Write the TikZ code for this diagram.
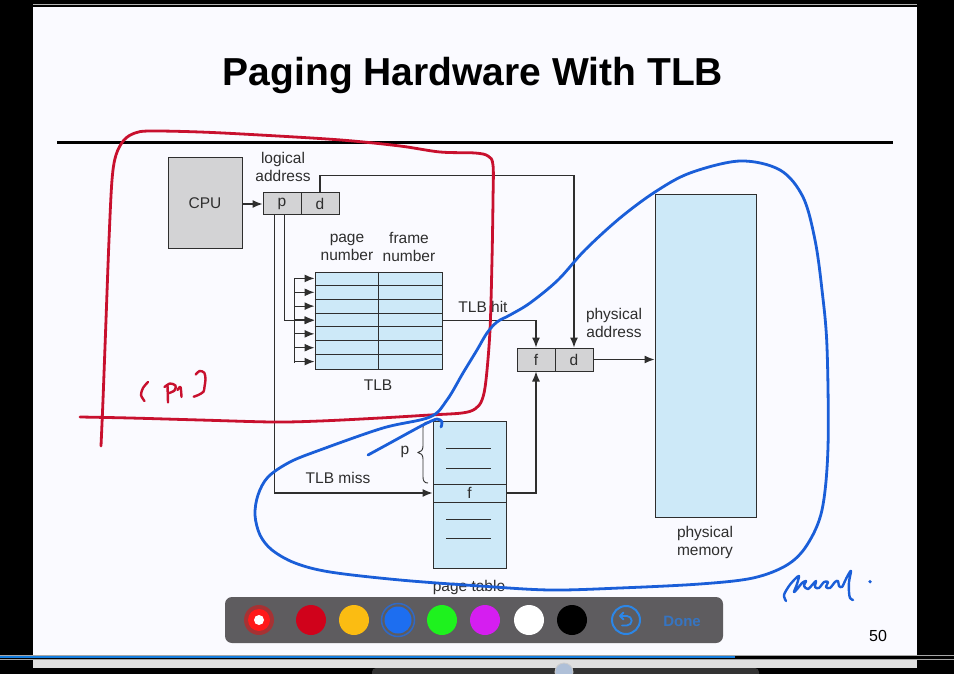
\documentclass[tikz,border=0pt]{standalone}
\usepackage{fontspec}
\setmainfont{Liberation Sans}
\usetikzlibrary{arrows.meta,calc}

\definecolor{ink}{HTML}{2E2E2E}
\definecolor{boxgray}{HTML}{D3D3D5}
\definecolor{tlbblue}{HTML}{CDE9F8}
\definecolor{annred}{HTML}{C8102E}
\definecolor{annblue}{HTML}{1A5ED8}
\definecolor{barbg}{HTML}{5E5C5F}
\definecolor{donetext}{HTML}{2C7BDA}
\definecolor{penred}{HTML}{D0021B}
\definecolor{penyellow}{HTML}{FBBC12}
\definecolor{penblue}{HTML}{1D6EF0}
\definecolor{pengreen}{HTML}{1EF21E}
\definecolor{penmagenta}{HTML}{D51EF0}
\definecolor{undoblue}{HTML}{2C86E6}
\definecolor{knob}{HTML}{AFC0D8}

\newcommand\dlabelfont{\fontsize{15.5}{18}\selectfont}

\begin{document}
\begin{tikzpicture}[x=1pt,y=-1pt,
  box/.style={draw=ink, line width=1pt, fill=boxgray, inner sep=0pt, font=\dlabelfont, text=ink},
  store/.style={draw=ink, line width=1pt, fill=tlbblue, inner sep=0pt},
  wire/.style={draw=ink, line width=1.2pt},
  arr/.style={wire, -{Latex[length=10pt,width=8pt]}},
  lbl/.style={font=\dlabelfont, text=ink, align=center, inner sep=0pt},
  redpen/.style={draw=annred, line width=2.8pt, line cap=round, line join=round},
  bluepen/.style={draw=annblue, line width=2.8pt, line cap=round, line join=round},
  swatch/.style={circle, inner sep=0pt, minimum size=30pt}
]
\useasboundingbox (0,0) rectangle (954,674);

% screen frame and slide
\fill[black] (0,0) rectangle (954,674);
\fill[white!98!blue] (33,7) rectangle (917,656);
\draw[gray!60, line width=0.8pt] (33,4) -- (917,4);

% player strip under the slide
\fill[gray!25] (33,659) rectangle (917,668);
\draw[gray!70, line width=1pt] (0,655.5) -- (954,655.5);
\draw[gray!70, line width=1pt] (0,659) -- (954,659);
\draw[annblue!80!cyan, line width=2pt] (0,657.3) -- (735,657.3);
\fill[black!80, rounded corners=4pt] (372,668) rectangle (759,680);
\fill[knob] (564,672) circle (9);
\draw[gray!40, line width=0.8pt] (564,672) circle (9);

% title and rule
\node[font={\fontsize{39}{44}\selectfont\bfseries}] (title) at (473,76) {Paging Hardware With TLB};
\draw[line width=3pt] (57,143) -- (893,143);

% CPU and logical address
\node[box, minimum width=74pt, minimum height=90pt] (cpu) at (205,203) {CPU};
\node[box, minimum width=38pt, minimum height=22pt] (lp) at (282,204) {p};
\node[box, minimum width=38pt, minimum height=22pt] (ld) at (320,204) {d};
\node[lbl] (lalabel) at (283,167) {logical\\address};

% TLB
\node[store, minimum width=127pt, minimum height=97pt] (tlb) at (378.5,320.5) {};
\foreach \k in {1,...,6}
  \draw[ink, line width=1pt] ($(tlb.north west)+(0,{13.857*\k})$) -- ($(tlb.north east)+(0,{13.857*\k})$);
\draw[ink, line width=1pt] (tlb.north) -- (tlb.south);
\node[lbl] (pnlabel) at (347,247) {page\\number};
\node[lbl] (fnlabel) at (409,247) {frame\\number};
\node[lbl] (tlblabel) at (378,385) {TLB};

% bus feeding every TLB entry
\draw[wire] ($(tlb.north west)+(-20,6.93)$) -- ($(tlb.south west)+(-20,-6.93)$);
\foreach \k in {0,...,6}
  \draw[arr] ($(tlb.north west)+(-20,{6.93+13.857*\k})$) -- ($(tlb.north west)+(0,{6.93+13.857*\k})$);

% physical address
\node[box, minimum width=38pt, minimum height=23pt] (pf) at (536,359.5) {f};
\node[box, minimum width=38pt, minimum height=23pt] (pd) at (574,359.5) {d};
\node[lbl] (palabel) at (614,323) {physical\\address};

% physical memory
\node[store, minimum width=101pt, minimum height=322pt] (mem) at (705.5,356) {};
\node[lbl] (pmlabel) at (705,542) {physical\\memory};

% page table
\node[store, minimum width=73pt, minimum height=147pt] (pt) at (469.5,494.5) {};
\node[store, minimum width=73pt, minimum height=18pt, font=\dlabelfont, text=ink] (ptf) at (469.5,493) {f};
\foreach \yy in {448,468,519,538}
  \draw[ink, line width=1pt] (446,\yy) -- (491,\yy);
% brace spanning the entries before f
\draw[ink, line width=0.9pt]
  (428,422) .. controls (424.5,422) and (423,424) .. (423,428) -- (423,446)
  .. controls (423,450) and (421,452) .. (418,452.5)
  .. controls (421,453) and (423,455) .. (423,459) -- (423,477)
  .. controls (423,481) and (424.5,483) .. (428,483);
\node[lbl] (plabel) at (405,452) {p};
\node[lbl] (ptlabel) at (469,587) {page table};

% connectors
\draw[arr] (cpu.east |- lp.west) -- (lp.west);
\draw[arr] (ld.north) -- ++(0,-17) -| (pd.north);
\draw[arr] ([xshift=22pt]lp.south west) |- (tlb.west);
\draw[arr] ([xshift=12pt]lp.south west) |- (ptf.west);
\draw[arr] (tlb.east) -| (pf.north);
\draw[arr] (ptf.east) -| (pf.south);
\draw[arr] (pd.east) -- (pd.east -| mem.west);
\node[lbl] (hitlabel) at (483,307) {TLB hit};
\node[lbl] (misslabel) at (338,478) {TLB miss};

% slide number
\node[font={\fontsize{16}{18}\selectfont}] (pageno) at (878,636) {50};

% red pen annotation
\draw[redpen] plot[smooth, tension=0.55] coordinates {
  (101,446) (103,400) (106,320) (109,240) (112,180) (116,155) (124,140) (135,133)
  (150,131) (200,132) (260,135) (341,140) (400,146) (440,152) (475,153) (488,156)
  (493,165) (493,200) (492,260) (490,330) (486,380) (482,400) (475,409) (462,413)
  (430,415) (380,418) (320,421) (273,422) (200,420) (130,418) (80,417)};
\draw[redpen, line width=2.4pt] plot[smooth] coordinates {(148,382) (143,388) (141,395) (144.5,401)};
\draw[redpen, line width=2.4pt] (167.5,385) -- (168,402.5);
\draw[redpen, line width=2.4pt] plot[smooth] coordinates {(164.5,387) (170,383.5) (175.5,385.5) (174.5,390.5) (168,393.5)};
\draw[redpen, line width=2.4pt] plot[smooth] coordinates {(177.5,390) (180.5,387) (181.5,397)};
\draw[redpen, line width=2.4pt] plot[smooth] coordinates {(195.7,374.5) (199.5,371) (204.3,372.7) (205.5,379.3) (204.5,386.7) (203.5,391.7) (198.3,395) (193.7,396.7)};

% blue pen annotation
\draw[bluepen] plot[smooth cycle, tension=0.55] coordinates {
  (430,417) (447,400) (463,373) (477,350) (487,333) (497,322) (510,315) (530,303)
  (558,280) (585,250) (620,218) (655,192) (690,173) (740,161) (780,170) (803,197)
  (815,240) (822,290) (827,347) (828,447) (822,510) (807,545) (787,565) (753,578)
  (700,584) (620,588) (550,590) (480,586) (400,580) (330,572) (295,563) (272,550)
  (260,535) (255,515) (258,495) (268,477) (290,462) (320,450) (383,428)};
\draw[bluepen] plot[smooth] coordinates {(368,455) (390,443) (410,432) (425,424) (437,419) (442,422) (441,427)};
% handwritten word beside memory
\draw[bluepen, line width=2.4pt] plot[smooth, tension=0.5] coordinates {
  (786,601) (784,595) (789,586) (795,579) (799,576) (797,584) (794,592)
  (798,588) (802,583) (806,581) (804,586) (808,589) (813,584) (816,581)
  (815,587) (819,588) (824,582) (828,582) (826,587) (830,588)
  (835,582) (838,581) (839,586) (842,587) (845,581) (848,575) (851,571)
  (849,582) (849,592) (850,598) (853,600)};
\fill[annblue] (870,581.7) circle (1.8);

% pen toolbar
\fill[barbg, rounded corners=7pt] (225,597) rectangle (723,643);
\fill[red, opacity=0.45] (259,620) circle (15);
\fill[red!90!white] (259,620) circle (11);
\fill[white] (259,620) circle (5);
\node[swatch, fill=penred] (c1) at (311,620) {};
\node[swatch, fill=penyellow] (c2) at (354,620) {};
\draw[penblue!70!barbg, line width=1.5pt] (398,620) circle (16.5);
\node[swatch, fill=penblue, minimum size=27pt] (c3) at (398,620) {};
\node[swatch, fill=pengreen] (c4) at (442,620) {};
\node[swatch, fill=penmagenta] (c5) at (485,620) {};
\node[swatch, fill=white] (c6) at (529,620) {};
\node[swatch, fill=black] (c7) at (572,620) {};
\draw[undoblue, line width=2pt] (626,620) circle (14);
\draw[undoblue, line width=1.8pt, line cap=round, line join=round]
  (620,616) -- (627,616) arc[start angle=-90, end angle=90, radius=4.7] -- (622,625.4);
\draw[undoblue, line width=1.8pt, line cap=round, line join=round] (623.5,612.5) -- (620,616) -- (623.5,619.5);
\node[font={\fontsize{15}{16}\selectfont\bfseries}, text=donetext, opacity=0.8] (done) at (682,621) {Done};
\end{tikzpicture}
\end{document}
